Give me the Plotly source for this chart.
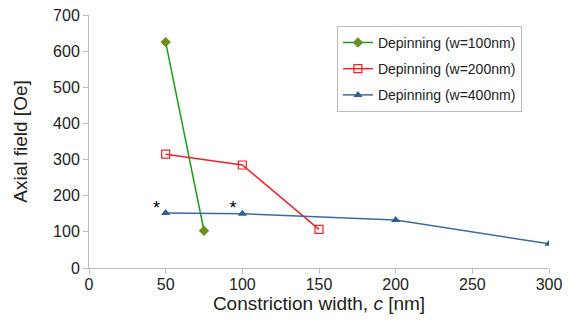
import plotly.graph_objects as go

# data
x100 = [50, 75]
y100 = [625, 103]
x200 = [50, 100, 150]
y200 = [315, 285, 107]
x400 = [50, 100, 200, 300]
y400 = [152, 150, 133, 67]
star_x = [44, 94]
star_y = [162, 162]
x_ticks = [0, 50, 100, 150, 200, 250, 300]
y_ticks = [0, 100, 200, 300, 400, 500, 600, 700]

FONT = "Liberation Sans, Arial, sans-serif"
TXT = "#222222"

fig = go.Figure()
fig.add_trace(go.Scatter(x=x100, y=y100, mode="lines+markers", name="Depinning (w=100nm)",
                         legendgroup="a",
                         line=dict(color="#1f9a1f", width=1.5),
                         marker=dict(symbol="diamond", size=8, color="#6b8e23", line=dict(width=0))))
fig.add_trace(go.Scatter(x=x200, y=y200, mode="lines+markers", name="Depinning (w=200nm)",
                         legendgroup="b",
                         line=dict(color="#e8242a", width=1.5),
                         marker=dict(symbol="square-open", size=8, color="#e8242a", line=dict(width=1.2))))
fig.add_trace(go.Scatter(x=x400, y=y400, mode="lines+markers", name="Depinning (w=400nm)",
                         legendgroup="c",
                         line=dict(color="#3b6aa0", width=1.5),
                         marker=dict(symbol="triangle-up", size=8, color="#2f5e9a")))
fig.add_trace(go.Scatter(x=star_x, y=star_y, mode="text", text=["*", "*"], showlegend=False,
                         textfont=dict(size=18, color="black", family=FONT), hoverinfo="skip"))

axis_common = dict(showgrid=False, zeroline=False, showline=True, linecolor="#bdbdbd", linewidth=1,
                   ticks="outside", tickcolor="#bdbdbd", ticklen=5, automargin=False,
                   ticklabeloverflow="allow",
                   tickfont=dict(size=16, color=TXT, family=FONT))
fig.update_xaxes(range=[0, 300], tickvals=x_ticks, ticklabelstandoff=-3,
                 title=dict(text="Constriction width, <i>c</i> [nm]", font=dict(size=19, color=TXT, family=FONT), standoff=0),
                 **axis_common)
fig.update_yaxes(range=[0, 700], tickvals=y_ticks,
                 title=dict(text="Axial field [Oe]", font=dict(size=19, color=TXT, family=FONT), standoff=20),
                 **axis_common)

# page body has an 8px default margin, so the figure is sized/margined to compensate
fig.update_layout(
    width=566, height=324,
    margin=dict(l=81, r=25, t=7, b=64),
    plot_bgcolor="white", paper_bgcolor="white",
    font=dict(family=FONT),
    legend=dict(x=0.539, y=0.957, xanchor="left", yanchor="top",
                bordercolor="#bdbdbd", borderwidth=1, bgcolor="white",
                font=dict(size=14, color=TXT, family=FONT),
                tracegroupgap=5, itemwidth=30),
)

fig.write_html("out.html")
